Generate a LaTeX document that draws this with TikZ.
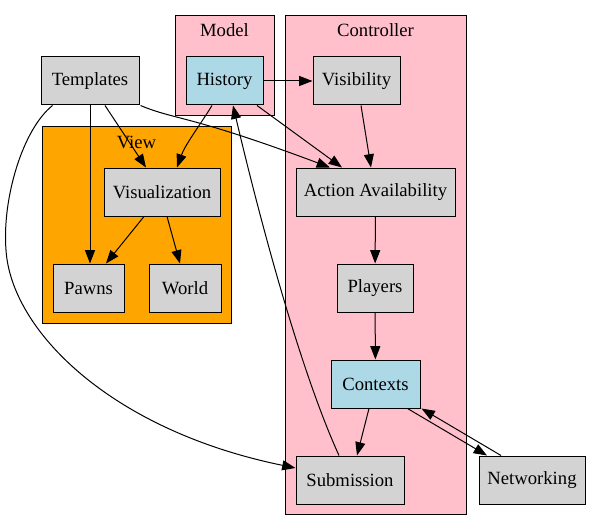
\documentclass[tikz,border=0pt]{standalone}
\usepackage{fontspec}
\setmainfont{Liberation Serif}
\newfontfamily\timesfont{Liberation Serif}
\usetikzlibrary{arrows.meta,calc}
\definecolor{lgray}{HTML}{D3D3D3}
\definecolor{lblue}{HTML}{ADD8E6}
\definecolor{cpink}{HTML}{FFC0CB}
\definecolor{corange}{HTML}{FFA500}
\tikzset{
  box/.style={draw=black, line width=0.75pt, fill=lgray, minimum height=36pt, inner sep=0pt, font=\timesfont\fontsize{14}{16}\selectfont},
  bluebox/.style={box, fill=lblue},
  cluster/.style={draw=black, line width=0.75pt},
  clabel/.style={font=\timesfont\fontsize{14}{16}\selectfont, inner sep=0pt},
  arr/.style={draw=black, line width=0.75pt, -{Triangle[length=10pt,width=7.5pt]}},
}
\begin{document}
\begin{tikzpicture}[x=0.75pt,y=-0.75pt]
\useasboundingbox (0,0) rectangle (591,531);
% clusters
\filldraw[cluster, fill=cpink] (175,16) rectangle (274,116);
\filldraw[cluster, fill=cpink] (285,16) rectangle (466,514);
\filldraw[cluster, fill=corange] (42,126) rectangle (231,323);
\node[clabel] (lmodel) at (224.5,30) {Model};
\node[clabel] (lctrl) at (375.5,30) {Controller};
\node[clabel] (lview) at (136.5,142) {View};
% nodes
\node[box, minimum width=73.5pt] (tmpl) at (90,81) {Templates};
\node[bluebox, minimum width=57.75pt] (hist) at (224.5,81) {History};
\node[box, minimum width=65.25pt] (vis) at (356.5,81) {Visibility};
\node[box, minimum width=119.25pt] (act) at (375.5,192) {Action Availability};
\node[box, minimum width=87pt] (viz) at (162,192) {Visualization};
\node[box, minimum width=53.25pt] (pawns) at (88.5,288) {Pawns};
\node[box, minimum width=54pt] (world) at (185,288) {World};
\node[box, minimum width=57pt] (players) at (375,288) {Players};
\node[bluebox, minimum width=66.75pt] (ctx) at (375.5,384) {Contexts};
\node[box, minimum width=81pt] (sub) at (350,480) {Submission};
\node[box, minimum width=79.5pt] (net) at (532,480) {Networking};
% edges
\draw[arr] (hist) -- (vis);
\draw[arr] ($(tmpl.south)+(15,0)$) -- ($(viz.north)+(-16,0)$);
\draw[arr] (tmpl.south) -- (tmpl.south |- pawns.north);
\draw[arr] ($(tmpl.south east)+(1,0)$) .. controls (175,120) and (190,115) .. ($(act.north)+(-45.5,0)$);
\draw[arr] ($(tmpl.south west)+(12,0)$) .. controls (22,130) and (2,200) .. (6,250) .. controls (11,330) and (110,430) .. ($(sub.west)+(0,-12)$);
\draw[arr] ($(hist.south)+(-12.5,0)$) .. controls (200,125) and (185,145) .. ($(viz.north)+(15,0)$);
\draw[arr] ($(hist.south)+(32.5,0)$) -- ($(act.north)+(-33.5,0)$);
\draw[arr] ($(viz.south)+(-18,0)$) -- ($(pawns.north)+(17.5,0)$);
\draw[arr] ($(viz.south)+(5,0)$) -- ($(world.north)+(-5,0)$);
\draw[arr] ($(vis.south)+(4.5,0)$) -- ($(act.north)+(-4.5,0)$);
\draw[arr] (act) -- (players);
\draw[arr] (players) -- (ctx);
\draw[arr] ($(ctx.south)+(-6.5,0)$) -- ($(sub.north)+(7,0)$);
\draw[arr] ($(ctx.south)+(32,0)$) -- ($(net.north)+(-45,0)$);
\draw[arr] ($(net.north)+(-31,0)$) -- ($(ctx.south east)+(1,0)$);
\draw[arr] ($(sub.north)+(-11,0)$) .. controls (300,370) and (260,220) .. ($(hist.south)+(8.5,0)$);
\end{tikzpicture}
\end{document}
